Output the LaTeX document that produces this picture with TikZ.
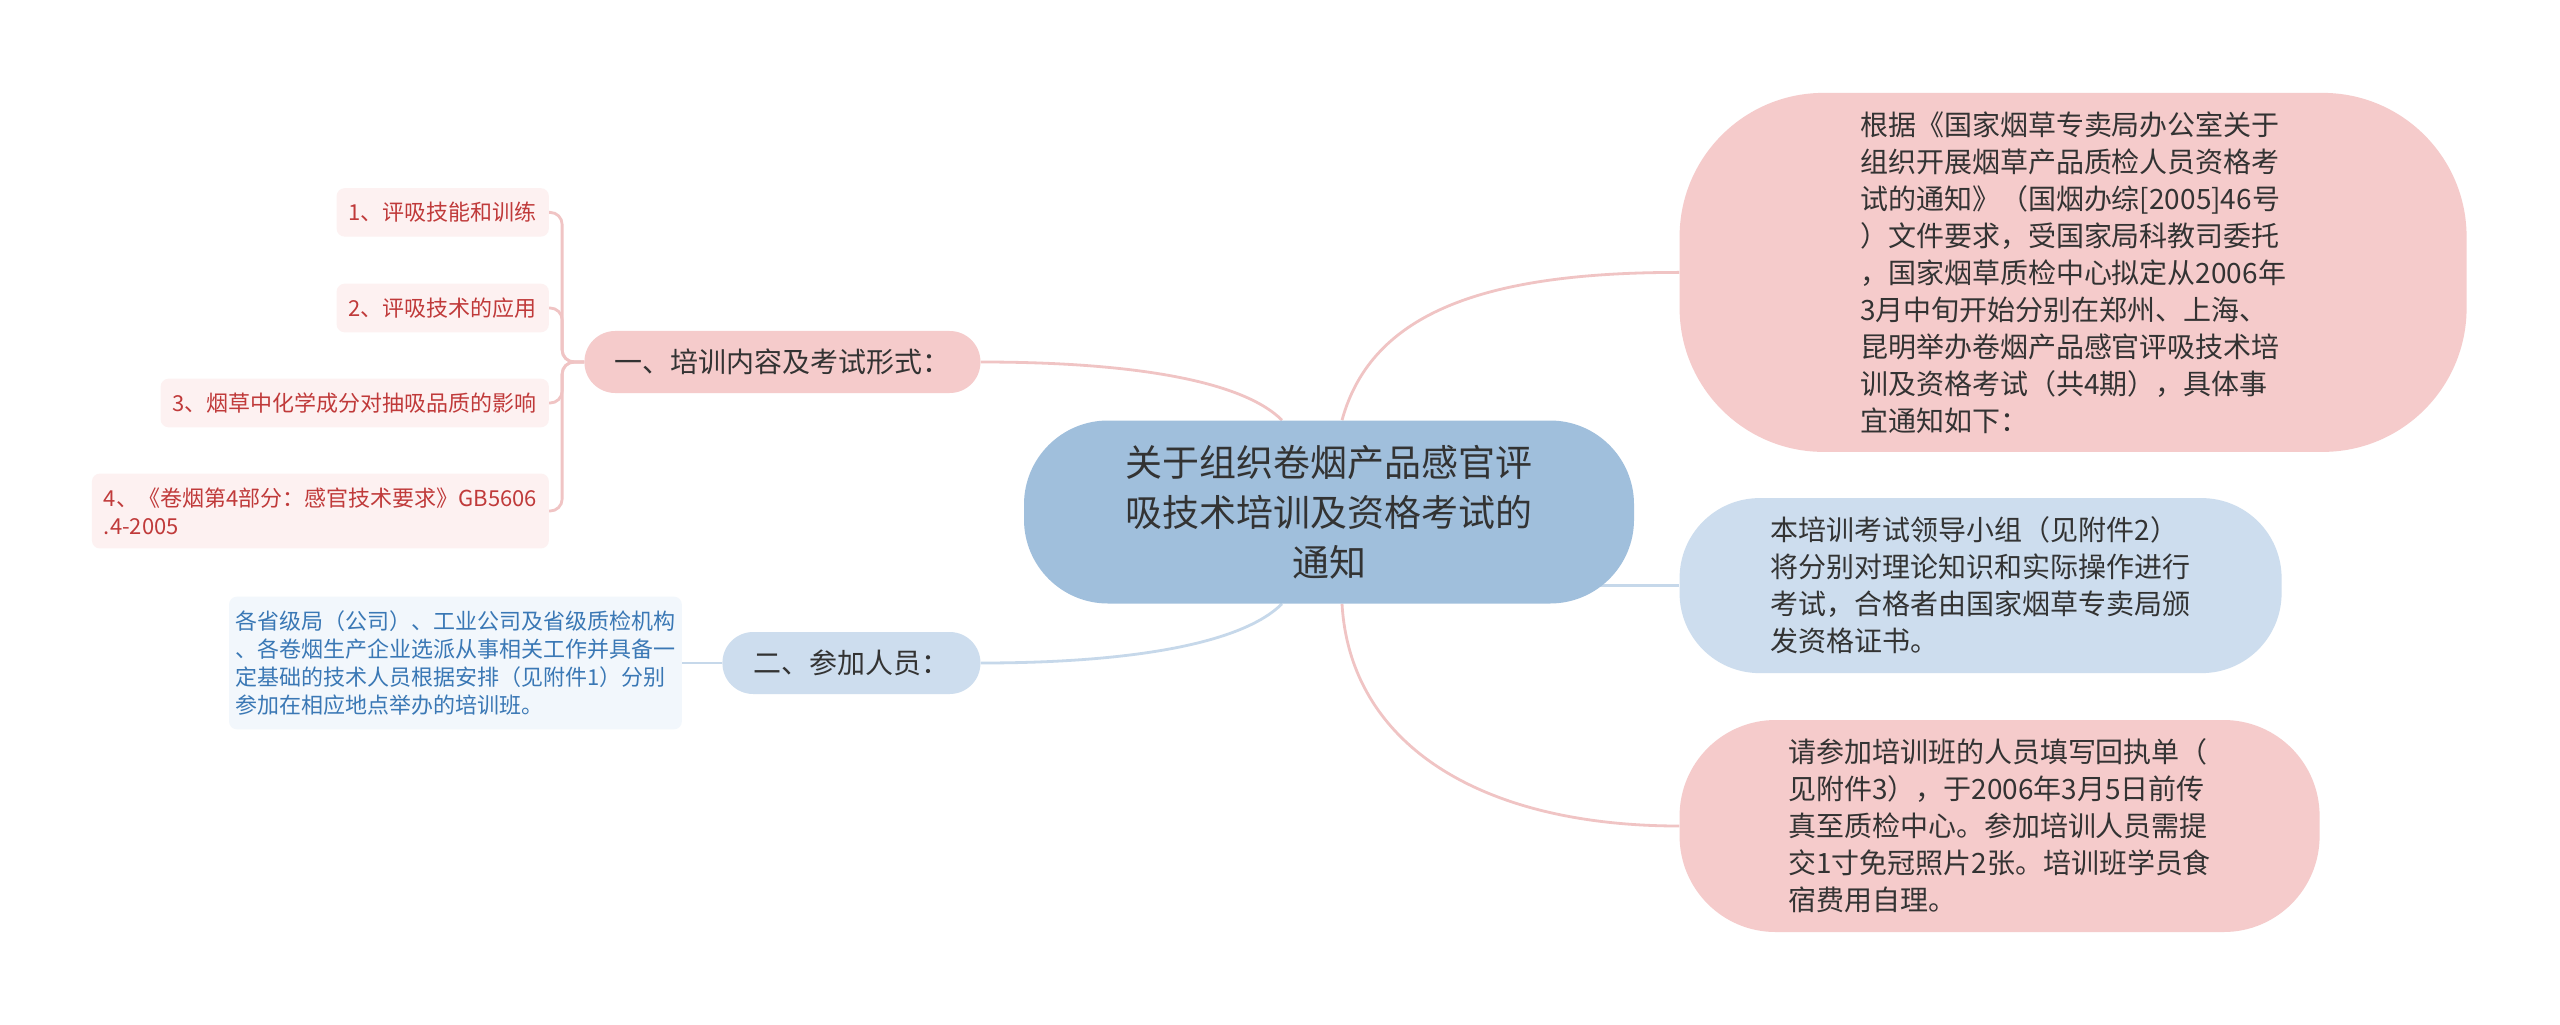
\documentclass[tikz,border=0pt]{standalone}
\usepackage{fontspec}
\setmainfont{Noto Sans CJK SC}
\usepackage{tikz}
\usetikzlibrary{positioning, backgrounds}
\definecolor{rootblue}{HTML}{A0BFDC}
\definecolor{topicrose}{HTML}{F5CBCB}
\definecolor{topicsky}{HTML}{CDDDEE}
\definecolor{leafrose}{HTML}{FDF1F1}
\definecolor{leafsky}{HTML}{F2F7FC}
\definecolor{linerose}{HTML}{F0C4C4}
\definecolor{linesky}{HTML}{C6D8EA}
\definecolor{textdark}{HTML}{333333}
\definecolor{textred}{HTML}{C03A3A}
\definecolor{textblue}{HTML}{3A78B5}

\begin{document}
\begin{tikzpicture}[
    x=0.25mm, y=-0.25mm,
    mainnode/.style={
        rectangle,
        fill=rootblue,
        rounded corners=21mm,
        minimum width=152.5mm,
        minimum height=45.75mm,
        inner sep=0pt,
        text=textdark,
        font=\fontsize{26.3pt}{35.6pt}\selectfont,
        align=center
    },
    topic/.style={
        rectangle,
        rounded corners=7.7mm,
        minimum height=15.5mm,
        inner sep=0pt,
        text=textdark,
        font=\fontsize{19.9pt}{26.3pt}\selectfont,
        align=center
    },
    bubble/.style={
        rectangle,
        inner sep=0pt,
        text=textdark,
        font=\fontsize{19.9pt}{26.3pt}\selectfont,
        align=left
    },
    leaf/.style={
        rectangle,
        rounded corners=2mm,
        inner xsep=3mm, inner ysep=3.5mm,
        minimum height=10.75mm,
        font=\fontsize{15.65pt}{19.9pt}\selectfont,
        align=left
    },
    leafpink/.style={leaf, fill=leafrose, text=textred},
    leafblue/.style={leaf, fill=leafsky, text=textblue, inner xsep=1.6mm},
    pinkline/.style={draw=linerose, line width=0.7mm},
    blueline/.style={draw=linesky, line width=0.7mm}
]
    \useasboundingbox (0,0) rectangle (2560,1025);

    % Centre
    \node[mainnode] (root) at (1329,512) {关于组织卷烟产品感官评\\吸技术培训及资格考试的\\通知};

    % Left side: topics
    \node[topic, fill=topicrose, minimum width=99mm, left=10.75mm of root, yshift=37.5mm] (topic1) {一、培训内容及考试形式：};
    \node[topic, fill=topicsky, minimum width=64.5mm, left=10.75mm of root, yshift=-37.75mm] (topic2) {二、参加人员：};

    % Left side: leaves
    \node[leafpink, left=8.75mm of topic1, yshift=37.4mm] (leaf1) {1、评吸技能和训练};
    \node[leafpink, below=23.9mm of leaf1.east, anchor=east] (leaf2) {2、评吸技术的应用};
    \node[leafpink, below=23.75mm of leaf2.east, anchor=east] (leaf3) {3、烟草中化学成分对抽吸品质的影响};
    \node[leafpink, below=27mm of leaf3.east, anchor=east] (leaf4) {4、《卷烟第4部分：感官技术要求》GB5606\\.4-2005};
    \node[leafblue, left=10mm of topic2] (staff) {各省级局（公司）、工业公司及省级质检机构\\、各卷烟生产企业选派从事相关工作并具备一\\定基础的技术人员根据安排（见附件1）分别\\参加在相应地点举办的培训班。};

    % Right side
    \node[bubble, fill=topicrose, rounded corners=36mm, minimum width=196.75mm, minimum height=89.75mm,
          right=11.25mm of root, yshift=59.9mm] (basis)
          {根据《国家烟草专卖局办公室关于\\组织开展烟草产品质检人员资格考\\试的通知》（国烟办综[2005]46号\\）文件要求，受国家局科教司委托\\，国家烟草质检中心拟定从2006年\\3月中旬开始分别在郑州、上海、\\昆明举办卷烟产品感官评吸技术培\\训及资格考试（共4期），具体事\\宜通知如下：};
    \node[bubble, fill=topicsky, rounded corners=20mm, minimum width=150.5mm, minimum height=43.75mm,
          right=11.25mm of root, yshift=-18.4mm] (panel)
          {本培训考试领导小组（见附件2）\\将分别对理论知识和实际操作进行\\考试，合格者由国家烟草专卖局颁\\发资格证书。};
    \node[bubble, fill=topicrose, rounded corners=24mm, minimum width=160mm, minimum height=53mm,
          right=11.25mm of root, yshift=-78.5mm] (reply)
          {请参加培训班的人员填写回执单（\\见附件3），于2006年3月5日前传\\真至质检中心。参加培训人员需提\\交1寸免冠照片2张。培训班学员食\\宿费用自理。};

    % Connectors
    \begin{scope}[on background layer]
        \fill[white] (0,0) rectangle (2560,1025);
        \draw[pinkline] ([xshift=3.25mm]root.north) .. controls +(30,-110) and +(-190,0) .. (basis.west);
        \draw[blueline] (root.center |- panel.west) -- (panel.west);
        \draw[pinkline] ([xshift=3.25mm]root.south) .. controls +(8,140) and +(-200,0) .. (reply.west);
        \draw[pinkline] ([xshift=-11.75mm]root.north) .. controls +(-40,-40) and +(150,0) .. (topic1.east);
        \draw[blueline] ([xshift=-11.75mm]root.south) .. controls +(-40,40) and +(150,0) .. (topic2.east);
        \foreach \leaf in {leaf1,leaf2,leaf3,leaf4}
            \draw[pinkline, rounded corners=3mm] (topic1.west) -- ++(-22,0) |- (\leaf.east);
        \draw[blueline] (topic2) -- (staff);
    \end{scope}
\end{tikzpicture}
\end{document}
